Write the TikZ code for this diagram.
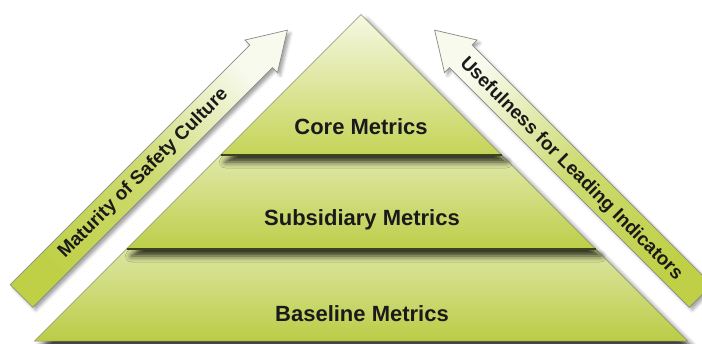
\documentclass[tikz,border=0pt]{standalone}
\usepackage{fontspec}
\setmainfont{Liberation Sans}
\usetikzlibrary{shadows.blur}
\definecolor{coretop}{HTML}{F6F8E4}
\definecolor{corebot}{HTML}{C5D457}
\definecolor{subtop}{HTML}{E1E9AA}
\definecolor{subbot}{HTML}{BDCE49}
\definecolor{basetop}{HTML}{DDE6A2}
\definecolor{basebot}{HTML}{BBCC46}
\definecolor{edgegray}{HTML}{8A8F65}
\definecolor{sepdark}{HTML}{3E4419}
\definecolor{textdark}{HTML}{1A1A1A}
\definecolor{arrowgray}{HTML}{8A8A84}
\definecolor{arrtail}{HTML}{BFD047}
\definecolor{arrmid}{HTML}{CEDB72}
\definecolor{arrtip}{HTML}{F8FAEE}
\begin{document}
\begin{tikzpicture}[x=1pt,y=-1pt,
  layer/.style={draw=edgegray, line width=0.5pt,
    blur shadow={shadow xshift=5pt, shadow yshift=-7pt, shadow blur radius=6pt, shadow opacity=80}},
  sepline/.style={draw=sepdark, line width=1.2pt},
  lbl/.style={font=\fontsize{22}{26}\selectfont\bfseries, text=textdark},
  arrowbody/.style={draw=arrowgray, line width=0.7pt,
    blur shadow={shadow xshift=3pt, shadow yshift=-3pt, shadow blur radius=3pt, shadow opacity=35}},
  arrowlbl/.style={font=\fontsize{19}{22}\selectfont\bfseries, text=textdark}]
\useasboundingbox (0,0) rectangle (702,343);
% pyramid corners
\coordinate (apex) at (361,14.5);
\coordinate (c1) at (220.5,155);
\coordinate (c2) at (501.5,155);
\coordinate (s1) at (126.5,249);
\coordinate (s2) at (595.5,249);
\coordinate (b1) at (34.5,341);
\coordinate (b2) at (687.5,341);
% layers
\shade[layer, top color=basetop, bottom color=basebot] (s1) -- (b1) -- (b2) -- (s2) -- cycle;
\shade[layer, top color=subtop, bottom color=subbot] (c1) -- (s1) -- (s2) -- (c2) -- cycle;
\draw[sepline] (s1) -- (s2);
\shade[layer, top color=coretop, bottom color=corebot] (apex) -- (c1) -- (c2) -- cycle;
\draw[sepline] (c1) -- (c2);
% labels
\node[lbl] (core) at (361,127) {Core Metrics};
\node[lbl] (sub) at (362,220) {Subsidiary Metrics};
\node[lbl] (base) at (362,314) {Baseline Metrics};
% left arrow
\coordinate (a1) at (10.19,284.69);
\coordinate (a2) at (249.90,44.98);
\coordinate (a3) at (244.95,40.03);
\coordinate (a4) at (287.37,30.13);
\coordinate (a5) at (277.47,72.55);
\coordinate (a6) at (272.52,67.60);
\coordinate (a7) at (32.81,307.31);
\shade[arrowbody, top color=arrtip, bottom color=arrtail, middle color=arrmid, shading angle=-45]
  (a1) -- (a2) -- (a3) -- (a4) -- (a5) -- (a6) -- (a7) -- cycle;
\node[arrowlbl, rotate=45] (matur) at (143.5,173.5) {Maturity of Safety Culture};
% right arrow
\coordinate (r1) at (711.81,284.69);
\coordinate (r2) at (472.10,44.98);
\coordinate (r3) at (477.05,40.03);
\coordinate (r4) at (434.63,30.13);
\coordinate (r5) at (444.53,72.55);
\coordinate (r6) at (449.48,67.60);
\coordinate (r7) at (689.19,307.31);
\shade[arrowbody, top color=arrtip, bottom color=arrtail, middle color=arrmid, shading angle=45]
  (r1) -- (r2) -- (r3) -- (r4) -- (r5) -- (r6) -- (r7) -- cycle;
\node[arrowlbl, rotate=-45] (useful) at (571,169) {Usefulness for Leading Indicators};
\end{tikzpicture}
\end{document}
